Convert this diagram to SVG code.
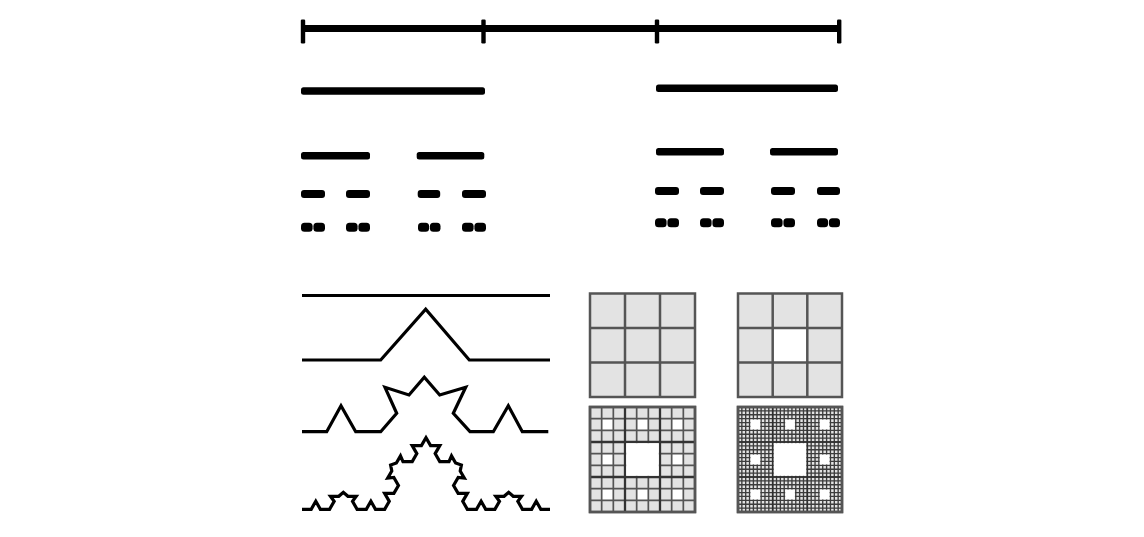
<svg xmlns="http://www.w3.org/2000/svg" width="1144" height="537" viewBox="0 0 1144 537">
<style>
.bar{fill:#000}
.koch{fill:none;stroke:#000;stroke-width:3.2;stroke-linejoin:miter;stroke-miterlimit:6;stroke-linecap:butt}
.sq{fill:#e3e3e3;stroke:#555;stroke-width:2.5}
.g1{fill:none;stroke:#555;stroke-width:2.5}
.g2{fill:none;stroke:#555;stroke-width:1.7}
.g2b{fill:none;stroke:#333;stroke-width:2.3}
.g3{fill:none;stroke:#3c3c3c;stroke-width:1.35}
.hole{fill:#fff}
</style>
<rect width="1144" height="537" fill="#fff"/>

<g id="cantor">
  <g id="cantor-0">
    <rect class="bar" x="302" y="25" width="538" height="7"/>
    <rect class="bar" x="300.8" y="19.5" width="4.4" height="24" rx="1.2"/>
    <rect class="bar" x="481.3" y="19.5" width="4.4" height="24" rx="1.2"/>
    <rect class="bar" x="654.8" y="19.5" width="4.4" height="24" rx="1.2"/>
    <rect class="bar" x="837" y="19.5" width="4.4" height="24" rx="1.2"/>
  </g>
  <g id="cantor-1">
    <rect class="bar" x="301" y="87.3" width="184" height="7.5" rx="2.5"/>
    <rect class="bar" x="656" y="84.5" width="182" height="7.5" rx="2.5"/>
  </g>
  <g id="cantor-2">
    <rect class="bar" x="301" y="151.9" width="69" height="7.5" rx="2.5"/>
    <rect class="bar" x="416.7" y="151.9" width="67.6" height="7.5" rx="2.5"/>
    <rect class="bar" x="656" y="147.9" width="68" height="7.5" rx="2.5"/>
    <rect class="bar" x="770" y="147.9" width="68" height="7.5" rx="2.5"/>
  </g>
  <g id="cantor-3">
    <rect class="bar" x="301" y="190" width="24" height="8" rx="3"/>
    <rect class="bar" x="346" y="190" width="24" height="8" rx="3"/>
    <rect class="bar" x="417.7" y="190" width="22.5" height="8" rx="3"/>
    <rect class="bar" x="462" y="190" width="24" height="8" rx="3"/>
    <rect class="bar" x="655" y="187" width="24" height="8" rx="3"/>
    <rect class="bar" x="700" y="187" width="24" height="8" rx="3"/>
    <rect class="bar" x="771" y="187" width="24" height="8" rx="3"/>
    <rect class="bar" x="817" y="187" width="23" height="8" rx="3"/>
  </g>
  <g id="cantor-4">
    <rect class="bar" x="301" y="222.8" width="11.6" height="9" rx="3.5"/>
    <rect class="bar" x="313.4" y="222.8" width="11.6" height="9" rx="3.5"/>
    <rect class="bar" x="346" y="222.8" width="11.6" height="9" rx="3.5"/>
    <rect class="bar" x="358.4" y="222.8" width="11.6" height="9" rx="3.5"/>
    <rect class="bar" x="418" y="222.8" width="11.1" height="9" rx="3.5"/>
    <rect class="bar" x="429.9" y="222.8" width="10.6" height="9" rx="3.5"/>
    <rect class="bar" x="462" y="222.8" width="11.6" height="9" rx="3.5"/>
    <rect class="bar" x="474.4" y="222.8" width="11.6" height="9" rx="3.5"/>
    <rect class="bar" x="655" y="218.2" width="11.6" height="9" rx="3.5"/>
    <rect class="bar" x="667.4" y="218.2" width="11.6" height="9" rx="3.5"/>
    <rect class="bar" x="700" y="218.2" width="11.6" height="9" rx="3.5"/>
    <rect class="bar" x="712.4" y="218.2" width="11.6" height="9" rx="3.5"/>
    <rect class="bar" x="771" y="218.2" width="11.6" height="9" rx="3.5"/>
    <rect class="bar" x="783.4" y="218.2" width="11.6" height="9" rx="3.5"/>
    <rect class="bar" x="817" y="218.2" width="11.1" height="9" rx="3.5"/>
    <rect class="bar" x="828.9" y="218.2" width="11.1" height="9" rx="3.5"/>
  </g>
</g>

<g id="koch">
  <g id="koch-0"><path class="koch" d="M302 295.5 H550"/></g>
  <g id="koch-1"><path class="koch" d="M302 360 L380.7 360 L425.7 309.3 L469.3 360 L550 360"/></g>
  <g id="koch-2"><path class="koch" d="M302 431.7 L326.7 431.7 L341 405.7 L355.7 431.7 L380.7 431.7 L396.7 413.3 L385 387.3 L409 395 L424.3 377.3 L439.7 395 L465.7 387.3 L453.3 413.3 L470 431.7 L493.3 431.7 L508.3 405.7 L522.3 431.7 L548.3 431.7"/></g>
  <g id="koch-3"><path class="koch" d="M302 509.3 L311.19 509.3 L315.78 501.3 L320.37 509.3 L329.56 509.3 L334.15 501.3 L330.5 496.3 L338.74 496.3 L343.33 492.3 L347.93 496.3 L356.17 496.3 L352.52 501.3 L357.11 509.3 L366.3 509.3 L370.89 501.3 L375.48 509.3 L384.67 509.3 L389.27 501.34 L384.63 493.37 L393.86 493.39 L398.45 485.43 L393.82 477.46 L387.66 478.12 L391.78 470.98 L390.61 465.01 L396.38 463.03 L400.5 455.89 L403 461.55 L412.23 461.58 L416.82 453.62 L412.19 445.64 L421.41 445.67 L426 437.71 L430.59 445.67 L439.81 445.64 L435.18 453.62 L439.77 461.58 L449 461.55 L451.5 455.89 L455.62 463.03 L461.39 465.01 L460.22 470.98 L464.34 478.12 L458.18 477.46 L453.55 485.43 L458.14 493.39 L467.37 493.37 L462.73 501.34 L467.33 509.3 L476.52 509.3 L481.11 501.3 L485.7 509.3 L494.89 509.3 L499.48 501.3 L495.83 496.3 L504.07 496.3 L508.66 492.3 L513.26 496.3 L521.5 496.3 L517.85 501.3 L522.44 509.3 L531.63 509.3 L536.22 501.3 L540.81 509.3 L550 509.3"/></g>
</g>

<g id="carpet">
  <g id="carpet-0">
    <rect class="sq" x="590" y="293.5" width="105" height="103.5"/>
    <path class="g1" d="M625 293.5 V397 M660 293.5 V397 M590 328 H695 M590 362.5 H695"/>
  </g>
  <g id="carpet-1">
    <rect class="sq" x="738" y="293.5" width="104" height="103.5"/>
    <rect class="hole" x="772.7" y="328" width="34.6" height="34.5"/>
    <path class="g1" d="M772.7 293.5 V397 M807.3 293.5 V397 M738 328 H842 M738 362.5 H842"/>
  </g>
  <g id="carpet-2">
    <rect class="sq" x="590" y="407" width="105" height="105"/>
    <rect class="hole" x="601.67" y="418.67" width="11.67" height="11.67"/>
    <rect class="hole" x="636.67" y="418.67" width="11.67" height="11.67"/>
    <rect class="hole" x="671.67" y="418.67" width="11.67" height="11.67"/>
    <rect class="hole" x="601.67" y="453.67" width="11.67" height="11.67"/>
    <rect class="hole" x="671.67" y="453.67" width="11.67" height="11.67"/>
    <rect class="hole" x="601.67" y="488.67" width="11.67" height="11.67"/>
    <rect class="hole" x="636.67" y="488.67" width="11.67" height="11.67"/>
    <rect class="hole" x="671.67" y="488.67" width="11.67" height="11.67"/>
    <path class="g2" d="M601.67 407 V512 M613.33 407 V512 M636.67 407 V512 M648.33 407 V512 M671.67 407 V512 M683.33 407 V512 M590 418.67 H695 M590 430.33 H695 M590 453.67 H695 M590 465.33 H695 M590 488.67 H695 M590 500.33 H695"/>
    <path class="g2b" d="M625 407 V512 M660 407 V512 M590 442 H695 M590 477 H695"/>
    <rect class="hole" x="626.2" y="443.2" width="32.6" height="32.6"/>
    <rect x="590" y="407" width="105" height="105" fill="none" stroke="#555" stroke-width="2.5"/>
  </g>
  <g id="carpet-3">
    <rect class="sq" x="738" y="407" width="104" height="105" fill="#d8d8d8"/>
    <path class="g3" d="M741.85 407 V512 M745.7 407 V512 M749.56 407 V512 M753.41 407 V512 M757.26 407 V512 M761.11 407 V512 M764.96 407 V512 M768.81 407 V512 M772.67 407 V512 M776.52 407 V512 M780.37 407 V512 M784.22 407 V512 M788.07 407 V512 M791.93 407 V512 M795.78 407 V512 M799.63 407 V512 M803.48 407 V512 M807.33 407 V512 M811.19 407 V512 M815.04 407 V512 M818.89 407 V512 M822.74 407 V512 M826.59 407 V512 M830.44 407 V512 M834.3 407 V512 M838.15 407 V512 M738 410.89 H842 M738 414.78 H842 M738 418.67 H842 M738 422.56 H842 M738 426.44 H842 M738 430.33 H842 M738 434.22 H842 M738 438.11 H842 M738 442 H842 M738 445.89 H842 M738 449.78 H842 M738 453.67 H842 M738 457.56 H842 M738 461.44 H842 M738 465.33 H842 M738 469.22 H842 M738 473.11 H842 M738 477 H842 M738 480.89 H842 M738 484.78 H842 M738 488.67 H842 M738 492.56 H842 M738 496.44 H842 M738 500.33 H842 M738 504.22 H842 M738 508.11 H842"/>
    <path fill="none" stroke="#2e2e2e" stroke-width="1.6" d="M772.67 407 V512 M807.33 407 V512 M738 442 H842 M738 477 H842"/>
    <rect class="hole" x="750.5" y="419.6" width="9.7" height="9.8"/>
    <rect class="hole" x="785.2" y="419.6" width="9.7" height="9.8"/>
    <rect class="hole" x="819.8" y="419.6" width="9.7" height="9.8"/>
    <rect class="hole" x="750.5" y="454.6" width="9.7" height="9.8"/>
    <rect class="hole" x="819.8" y="454.6" width="9.7" height="9.8"/>
    <rect class="hole" x="750.5" y="489.6" width="9.7" height="9.8"/>
    <rect class="hole" x="785.2" y="489.6" width="9.7" height="9.8"/>
    <rect class="hole" x="819.8" y="489.6" width="9.7" height="9.8"/>
    <rect class="hole" x="773.8" y="443.2" width="32.4" height="32.6"/>
    <rect x="738" y="407" width="104" height="105" fill="none" stroke="#555" stroke-width="2.5"/>
  </g>
</g>
</svg>
